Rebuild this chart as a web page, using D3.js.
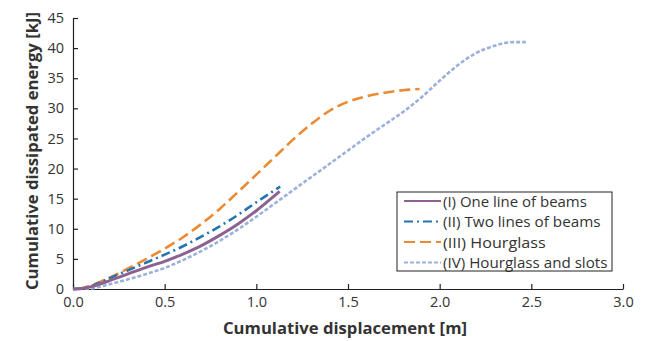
<html><head>
<meta charset="UTF-8">
<title>Cumulative dissipated energy</title>
<script src="https://cdn.jsdelivr.net/npm/d3@7"></script>
<style>
  body { margin: 0; background: #fff; }
  text { font-family: "Open Sans", "Liberation Sans", sans-serif; fill: #333; }
</style>
</head>
<body>
<svg id="chart" width="649" height="341"></svg>
<script>
  // data
  const names = ["(I) One line of beams", "(II) Two lines of beams", "(III) Hourglass", "(IV) Hourglass and slots"];
  const colors = ["#8c6390", "#2574b0", "#ec8a33", "#9cb1da"];
  const dashes = [null, "9,4,2,4", "11,5", "4,2"];

  const xI = [0, 0.05, 0.1, 0.2, 0.3, 0.4, 0.5, 0.6, 0.7, 0.8, 0.9, 1.0, 1.1, 1.127];
  const yI = [0, 0.1, 0.4, 1.4, 2.5, 3.6, 4.6, 5.8, 7.2, 8.9, 10.8, 13.0, 15.5, 16.2];

  const xII = [0, 0.05, 0.1, 0.2, 0.3, 0.4, 0.5, 0.6, 0.7, 0.8, 0.9, 1.0, 1.1, 1.13];
  const yII = [0, 0.1, 0.5, 1.8, 3.1, 4.4, 5.7, 7.1, 8.7, 10.4, 12.3, 14.4, 16.4, 17.0];

  const xIII = [0.03, 0.1, 0.2, 0.3, 0.4, 0.5, 0.6, 0.7, 0.8, 0.9, 1.0, 1.1, 1.2, 1.3, 1.4, 1.5, 1.6, 1.7, 1.8, 1.89];
  const yIII = [0, 0.6, 1.9, 3.4, 5.0, 6.7, 8.6, 10.8, 13.3, 16.1, 19.0, 21.9, 24.8, 27.4, 29.6, 31.1, 32.0, 32.6, 33.0, 33.2];

  const xIV = [0, 0.1, 0.2, 0.3, 0.4, 0.5, 0.6, 0.7, 0.8, 0.9, 1.0, 1.1, 1.2, 1.3, 1.4, 1.5, 1.6, 1.7, 1.8, 1.9, 2.0, 2.1, 2.2, 2.3, 2.4, 2.47];
  const yIV = [0, 0.1, 0.8, 1.6, 2.5, 3.5, 4.8, 6.3, 8.0, 9.9, 12.0, 14.2, 16.4, 18.6, 20.8, 23.0, 25.2, 27.3, 29.4, 31.8, 34.6, 37.2, 39.2, 40.4, 41.0, 41.0];

  const xTicks = [0, 0.5, 1.0, 1.5, 2.0, 2.5, 3.0];
  const yTicks = [0, 5, 10, 15, 20, 25, 30, 35, 40, 45];

  const series = [[xI, yI], [xII, yII], [xIII, yIII], [xIV, yIV]].map((s, i) => ({
    name: names[i], color: colors[i], dash: dashes[i],
    pts: s[0].map((x, j) => [x, s[1][j]])
  }));

  const svg = d3.select("#chart");
  const x = d3.scaleLinear().domain([0, 3]).range([73, 623]);
  const y = d3.scaleLinear().domain([0, 45]).range([289, 18]);

  // axes, ticks pointing inward
  const xAxis = svg.append("g").attr("transform", "translate(0,289)")
    .call(d3.axisBottom(x).tickValues(xTicks).tickFormat(d3.format(".1f")).tickSize(-5).tickSizeOuter(0));
  xAxis.selectAll("text").attr("dy", null).attr("y", 18).style("font-size", "14.5px");

  const yAxis = svg.append("g").attr("transform", "translate(73,0)")
    .call(d3.axisLeft(y).tickValues(yTicks).tickSize(-5).tickSizeOuter(0));
  yAxis.selectAll("text").attr("x", -9).style("font-size", "14.5px");

  svg.selectAll(".domain, .tick line").attr("stroke", "#222").attr("stroke-width", 1.2);

  // lines
  const line = d3.line().x(d => x(d[0])).y(d => y(d[1])).curve(d3.curveMonotoneX);
  svg.append("g").selectAll("path")
    .data(series.slice().reverse())
    .enter()
    .append("path")
    .attr("d", d => line(d.pts))
    .attr("fill", "none")
    .attr("stroke", d => d.color)
    .attr("stroke-width", d => d.dash ? 2.6 : 3)
    .attr("stroke-dasharray", d => d.dash);

  // axis titles
  svg.append("text")
    .attr("x", 345).attr("y", 334)
    .attr("text-anchor", "middle")
    .attr("textLength", 244).attr("lengthAdjust", "spacingAndGlyphs")
    .style("font-size", "16.5px").style("font-weight", "bold")
    .text("Cumulative displacement [m]");

  svg.append("text")
    .attr("transform", "translate(38,151) rotate(-90)")
    .attr("text-anchor", "middle")
    .attr("textLength", 278).attr("lengthAdjust", "spacingAndGlyphs")
    .style("font-size", "16.5px").style("font-weight", "bold")
    .text("Cumulative dissipated energy [kJ]");

  // legend
  const legend = svg.append("g");
  legend.append("rect")
    .attr("x", 397).attr("y", 192).attr("width", 215).attr("height", 79)
    .attr("fill", "#fff").attr("stroke", "#222").attr("stroke-width", 1);

  const rows = legend.selectAll("g.row")
    .data(series)
    .enter()
    .append("g")
    .attr("transform", (d, i) => `translate(0,${201 + i * 20.5})`);

  rows.append("line")
    .attr("x1", 404).attr("x2", 441)
    .attr("stroke", d => d.color)
    .attr("stroke-width", 2.2)
    .attr("stroke-dasharray", d => d.dash);

  rows.append("text")
    .attr("x", 443).attr("y", 5.5)
    .attr("textLength", d => d.name.length * 6.85).attr("lengthAdjust", "spacingAndGlyphs")
    .style("font-size", "15px")
    .text(d => d.name);
</script>
</body>
</html>
